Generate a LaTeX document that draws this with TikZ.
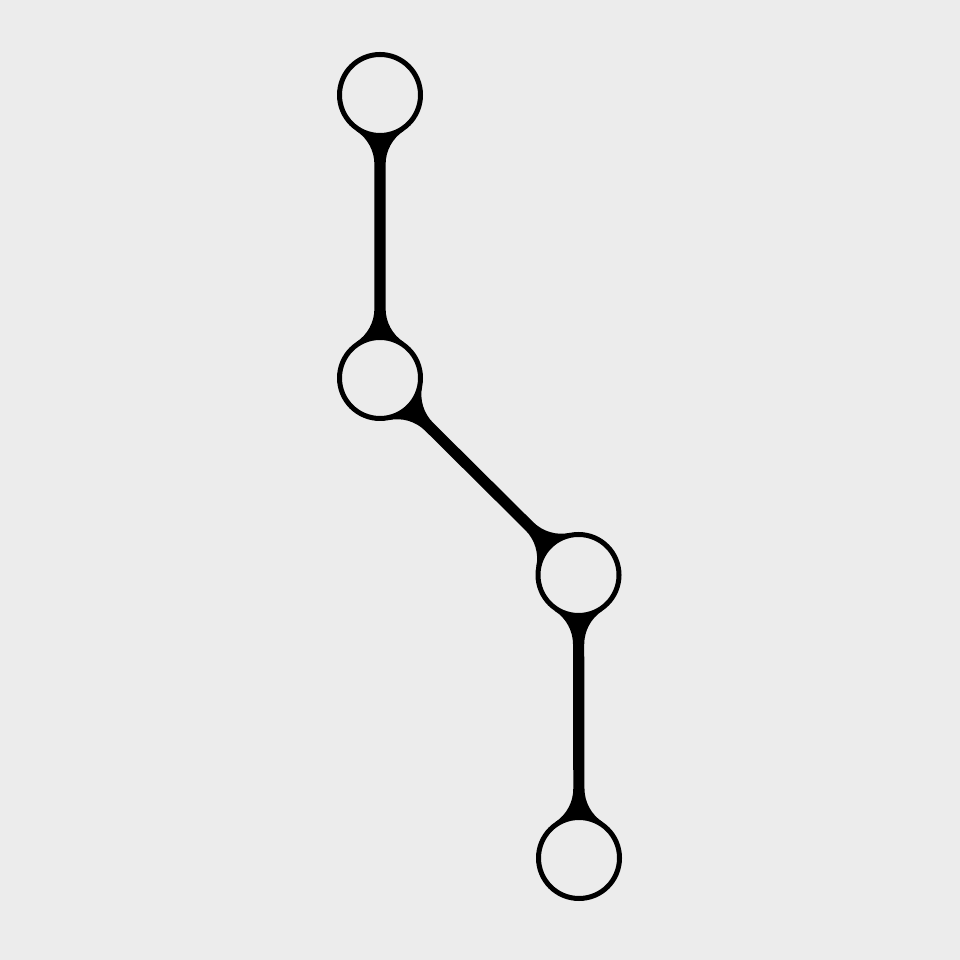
\documentclass[tikz,border=0pt]{standalone}
\usetikzlibrary{calc}
\definecolor{bgc}{HTML}{ECECEC}
\pgfdeclarelayer{back}
\pgfdeclarelayer{conn}
\pgfsetlayers{back,conn,main}
% connector geometry (pt)
\pgfmathsetmacro\Rr{43}
\pgfmathsetmacro\hh{5.6}
\pgfmathsetmacro\fr{40}
\pgfmathsetmacro\xf{sqrt((\Rr+\fr)^2-(\hh+\fr)^2)}
\pgfmathsetmacro\th{atan((\hh+\fr)/\xf)}
\pgfmathsetmacro\tax{\xf*\Rr/(\Rr+\fr)}
\pgfmathsetmacro\tay{(\hh+\fr)*\Rr/(\Rr+\fr)}
\newcommand\conn[2]{%
  \pgfmathanglebetweenpoints{\pgfpointanchor{#1}{center}}{\pgfpointanchor{#2}{center}}%
  \let\cang\pgfmathresult
  \pgfpointdiff{\pgfpointanchor{#1}{center}}{\pgfpointanchor{#2}{center}}%
  \pgfgetlastxy{\cdx}{\cdy}%
  \pgfmathsetmacro\clen{veclen(\cdx,\cdy)}%
  \begin{scope}[shift={(#1.center)}, rotate=\cang]
    \fill[black] (0,0) -- (\tax,\tay)
      arc[start angle=180+\th, end angle=270, radius=\fr]
      -- ({\clen-\xf},\hh)
      arc[start angle=270, end angle=360-\th, radius=\fr]
      -- (\clen,0) -- ({\clen-\tax},-\tay)
      arc[start angle=\th, end angle=90, radius=\fr]
      -- (\xf,-\hh)
      arc[start angle=90, end angle=180-\th, radius=\fr]
      -- cycle;
  \end{scope}}
\begin{document}
\begin{tikzpicture}[x=1pt,y=1pt,
  ring/.style={circle, draw=black, line width=5pt, fill=bgc, minimum size=81pt, inner sep=0pt}]
\begin{pgfonlayer}{back}
\fill[bgc] (0,0) rectangle (960,960);
\end{pgfonlayer}
\useasboundingbox (0,0) rectangle (960,960);
\node[ring] (a) at (380,865) {};
\node[ring] (b) at (380,582) {};
\node[ring] (c) at (578.5,385) {};
\node[ring] (d) at (579,102) {};
\begin{pgfonlayer}{conn}
\conn{a}{b}
\conn{b}{c}
\conn{c}{d}
\end{pgfonlayer}
\end{tikzpicture}
\end{document}
